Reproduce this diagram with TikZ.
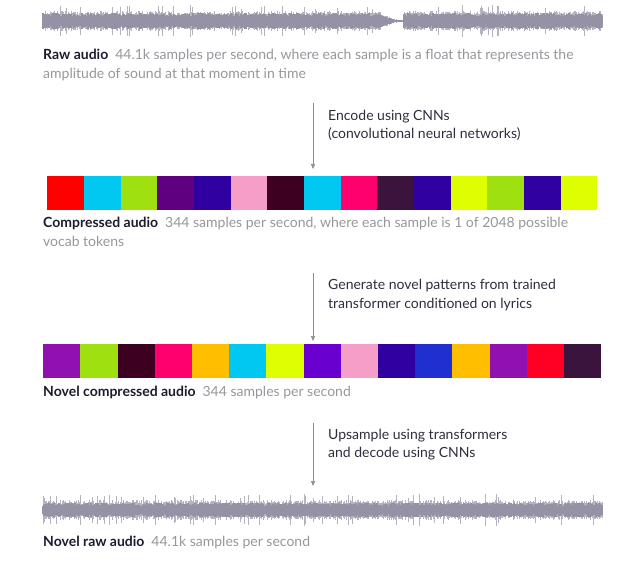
\documentclass[tikz,border=0pt]{standalone}
\usepackage{fontspec}
\setmainfont{Lato}
\usetikzlibrary{positioning,arrows.meta}
\definecolor{wavegray}{RGB}{150,146,166}
\definecolor{labelink}{RGB}{28,28,48}
\definecolor{noteink}{RGB}{150,150,156}
\definecolor{stepink}{RGB}{45,45,62}
\definecolor{arrowgray}{RGB}{140,140,146}
% token colours
\definecolor{tkred}{RGB}{255,0,0}
\definecolor{tkcyan}{RGB}{0,200,240}
\definecolor{tklime}{RGB}{158,224,16}
\definecolor{tkplum}{RGB}{94,0,128}
\definecolor{tkindigo}{RGB}{48,0,160}
\definecolor{tkpink}{RGB}{245,158,200}
\definecolor{tkmaroon}{RGB}{62,0,32}
\definecolor{tkrose}{RGB}{255,0,110}
\definecolor{tkaubergine}{RGB}{58,20,60}
\definecolor{tkyellow}{RGB}{222,255,0}
\definecolor{tkviolet}{RGB}{145,16,176}
\definecolor{tkorange}{RGB}{255,190,0}
\definecolor{tkpurple}{RGB}{106,0,208}
\definecolor{tkblue}{RGB}{32,48,208}
\definecolor{tkscarlet}{RGB}{255,0,36}

\begin{document}
\begin{tikzpicture}[x=1pt, y=-1pt, >={Triangle[length=5pt,width=4pt]},
    wave/.style={wavegray, line width=1.1pt},
    spike/.style={wavegray!70, line width=0.6pt},
    label/.style={anchor=base west, inner sep=0pt, font=\fontsize{14}{19}\selectfont, text=labelink},
    note/.style={anchor=base west, inner sep=0pt, font=\fontsize{14}{19}\selectfont, text=noteink},
    stepnote/.style={anchor=base west, inner sep=0pt, font=\fontsize{14}{19}\selectfont, text=stepink},
    flow/.style={->, arrowgray, line width=0.6pt},
    tokA/.style={minimum width=36.67pt, minimum height=34pt, inner sep=0pt, anchor=north west},
    tokB/.style={minimum width=37.2pt, minimum height=34pt, inner sep=0pt, anchor=north west}]
    \useasboundingbox (0,0) rectangle (640,564);

    % Raw audio waveform
    \pgfmathsetseed{7}
    \foreach \i in {0,...,559} {
        \pgfmathsetmacro\env{\i<335 ? 1 : (\i<355 ? (355-\i)/20 : (\i<361 ? 0 : 1))}
        \pgfmathsetmacro\amp{max(0.6,\env*(4.5+3.5*rnd))}
        \pgfmathsetmacro\tip{max(0.6,\env*(6+4*rnd+(rnd>0.92)*6))}
        \draw[spike] (43+\i,21-\tip) -- (43+\i,21+\tip);
        \draw[wave] (43+\i,21-\amp) -- (43+\i,21+\amp);
    }
    \node (raw) [label] at (43,60) {\textbf{Raw audio}\hspace{0.5em}{\color{noteink}44.1k samples per second, where each sample is a float that represents the}};
    \node (rawb) [note] at (43,79) {amplitude of sound at that moment in time};

    % Encode step
    \coordinate (enc-s) at (313,103);
    \coordinate (enc-e) at (313,169);
    \draw[flow] (enc-s) -- (enc-e);
    \node (enc) [stepnote] at (328,121) {Encode using CNNs};
    \node (encb) [stepnote] at (328,139) {(convolutional neural networks)};

    % Compressed audio tokens
    \foreach \c [count=\i from 0] in {tkred,tkcyan,tklime,tkplum,tkindigo,tkpink,tkmaroon,tkcyan,tkrose,tkaubergine,tkindigo,tkyellow,tklime,tkindigo,tkyellow}
        \node (ca\i) [tokA, fill=\c] at (47+36.67*\i,176) {};
    \node (comp) [label] at (43,228) {\textbf{Compressed audio}\hspace{0.5em}{\color{noteink}344 samples per second, where each sample is 1 of 2048 possible}};
    \node (compb) [note] at (43,247) {vocab tokens};

    % Generate step
    \coordinate (gen-s) at (313,273);
    \coordinate (gen-e) at (313,341);
    \draw[flow] (gen-s) -- (gen-e);
    \node (gen) [stepnote] at (328,290) {Generate novel patterns from trained};
    \node (genb) [stepnote] at (328,308) {transformer conditioned on lyrics};

    % Novel compressed audio tokens
    \foreach \c [count=\i from 0] in {tkviolet,tklime,tkmaroon,tkrose,tkorange,tkcyan,tkyellow,tkpurple,tkpink,tkindigo,tkblue,tkorange,tkviolet,tkscarlet,tkaubergine}
        \node (nc\i) [tokB, fill=\c] at (43+37.2*\i,344) {};
    \node (ncomp) [label] at (43,396) {\textbf{Novel compressed audio}\hspace{0.5em}{\color{noteink}344 samples per second}};

    % Upsample step
    \coordinate (up-s) at (313,423);
    \coordinate (up-e) at (313,486);
    \draw[flow] (up-s) -- (up-e);
    \node (up) [stepnote] at (328,439) {Upsample using transformers};
    \node (upb) [stepnote] at (328,457) {and decode using CNNs};

    % Novel raw audio waveform
    \pgfmathsetseed{23}
    \foreach \i in {0,...,559} {
        \pgfmathsetmacro\amp{4+3.5*rnd}
        \pgfmathsetmacro\tip{6+4*rnd+(rnd>0.92)*6}
        \draw[spike] (43+\i,510-\tip) -- (43+\i,510+\tip);
        \draw[wave] (43+\i,510-\amp) -- (43+\i,510+\amp);
    }
    \node (nraw) [label] at (43,546) {\textbf{Novel raw audio}\hspace{0.5em}{\color{noteink}44.1k samples per second}};
\end{tikzpicture}
\end{document}
